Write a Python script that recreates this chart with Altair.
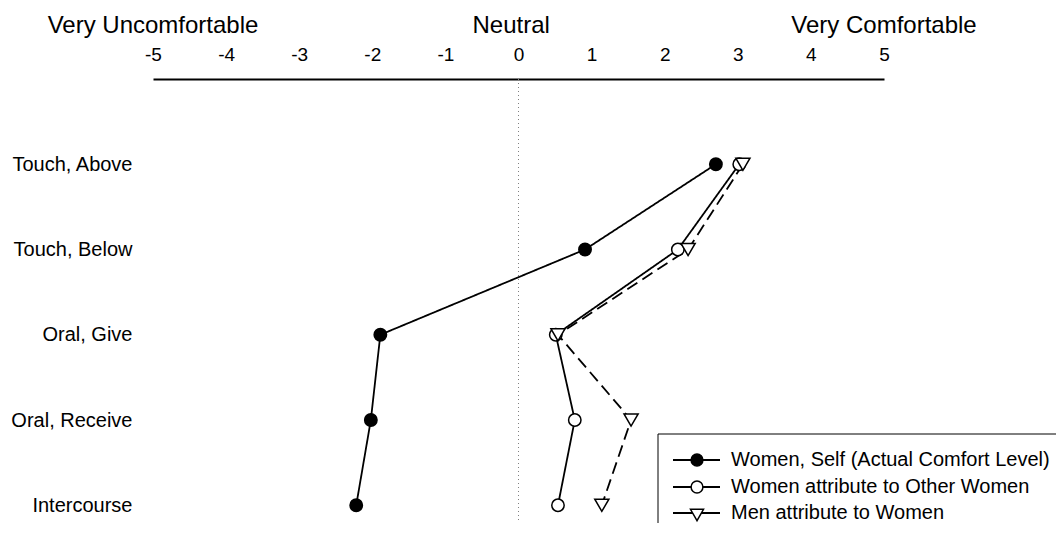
import altair as alt
import pandas as pd

categories = ["Touch, Above", "Touch, Below", "Oral, Give", "Oral, Receive", "Intercourse"]
series = ["Women, Self (Actual Comfort Level)", "Women attribute to Other Women", "Men attribute to Women"]
women_self = [2.70, 0.91, -1.89, -2.02, -2.22]
women_other = [3.02, 2.18, 0.51, 0.77, 0.54]
men_attr = [3.07, 2.32, 0.54, 1.54, 1.14]
x_ticks = [-5, -4, -3, -2, -1, 0, 1, 2, 3, 4, 5]
anchor_labels = ["Very Uncomfortable", "Neutral", "Very Comfortable"]
anchor_values = [-5, -0.1, 5]

FONT = "Liberation Sans"

rows = []
for s, vals in zip(series, [women_self, women_other, men_attr]):
    for i, (c, v) in enumerate(zip(categories, vals)):
        rows.append({"series": s, "category": c, "value": v, "idx": i})
df = pd.DataFrame(rows)

x_enc = alt.X("value:Q", scale=alt.Scale(domain=[-5, 5], nice=False, zero=False),
              axis=alt.Axis(orient="top", values=x_ticks, grid=False, ticks=False, tickSize=0,
                            domainColor="black", domainWidth=2, labelFont=FONT, labelFontSize=19,
                            labelColor="black", labelPadding=15, title=None, labelFlush=False,
                            labelExpr="'' + datum.value"))
y_enc = alt.Y("category:N", sort=categories,
              scale=alt.Scale(type="point", domain=categories, range=[85.25, 426.25], padding=0),
              axis=alt.Axis(orient="left", domain=False, ticks=False, grid=False, labelFont=FONT,
                            labelFontSize=20, labelColor="black", labelPadding=21, title=None))

zero_rule = alt.Chart(pd.DataFrame({"value": [0]})).mark_rule(
    color="#808080", strokeDash=[1, 3], strokeWidth=1).encode(x=alt.X("value:Q"))

dashes = [[1, 0], [1, 0], [12, 6]]
lines = alt.Chart(df).mark_line(stroke="black", strokeWidth=1.8, opacity=1).encode(
    x=x_enc, y=y_enc,
    strokeDash=alt.StrokeDash("series:N", scale=alt.Scale(domain=series, range=dashes), legend=None),
    order=alt.Order("idx:Q"),
)

marker_specs = [
    (series[0], "circle", "black", 154),
    (series[1], "circle", "white", 154),
    (series[2], "triangle-down", "white", 200),
]
point_layers = []
for s, shp, fc, sz in marker_specs:
    point_layers.append(
        alt.Chart(df).transform_filter(alt.datum.series == s).mark_point(
            shape=shp, filled=True, fill=fc, stroke="black", strokeWidth=1.5, size=sz, opacity=1
        ).encode(x=alt.X("value:Q"), y=alt.Y("category:N", sort=categories))
    )

# legend box (drawn as layout, not data)
one = pd.DataFrame({"k": [0]})
legend_layers = [
    alt.Chart(one).mark_rect(fill="white", stroke="black", strokeWidth=1).encode(
        x=alt.value(505), x2=alt.value(930), y=alt.value(355), y2=alt.value(480))
]
row_y = [381, 408, 434]
for (s, shp, fc, sz), ry in zip(marker_specs, row_y):
    legend_layers.append(
        alt.Chart(one).mark_rule(stroke="black", strokeWidth=1.8).encode(
            x=alt.value(520), x2=alt.value(567), y=alt.value(ry)))
    legend_layers.append(
        alt.Chart(one).mark_point(shape=shp, filled=True, fill=fc, stroke="black", strokeWidth=1.5,
                                  size=140 if shp == "circle" else 170, opacity=1).encode(
            x=alt.value(544), y=alt.value(ry if shp == "circle" else ry + 2)))
    legend_layers.append(
        alt.Chart(pd.DataFrame({"label": [s]})).mark_text(
            font=FONT, fontSize=20, align="left", baseline="middle", color="black").encode(
            x=alt.value(578), y=alt.value(ry), text="label:N"))

anchors = alt.Chart(pd.DataFrame({"label": anchor_labels, "value": anchor_values})).mark_text(
    font=FONT, fontSize=24, baseline="alphabetic", align="center", color="black"
).encode(x=alt.X("value:Q"), y=alt.value(-46), text="label:N")

chart = alt.layer(zero_rule, lines, *point_layers, *legend_layers, anchors).properties(
    width=731, height=444,
    autosize=alt.AutoSizeParams(type="none"),
    padding={"left": 145, "top": 71, "right": 172, "bottom": 0},
    background="white",
).configure_view(stroke=None)

chart.save("out.html", embed_options={"renderer": "svg", "actions": False})
